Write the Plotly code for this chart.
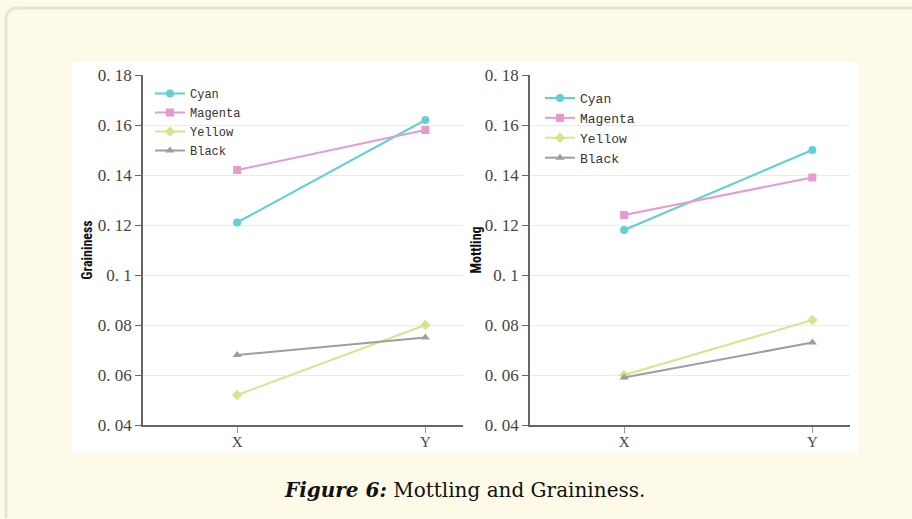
import plotly.graph_objects as go

categories = ["X", "Y"]
series_names = ["Cyan", "Magenta", "Yellow", "Black"]
graininess = {
    "Cyan": [0.121, 0.162],
    "Magenta": [0.142, 0.158],
    "Yellow": [0.052, 0.080],
    "Black": [0.068, 0.075],
}
mottling = {
    "Cyan": [0.118, 0.150],
    "Magenta": [0.124, 0.139],
    "Yellow": [0.060, 0.082],
    "Black": [0.059, 0.073],
}
tick_vals = [0.04, 0.06, 0.08, 0.10, 0.12, 0.14, 0.16, 0.18]
tick_text = ["0. 04", "0. 06", "0. 08", "0. 1", "0. 12", "0. 14", "0. 16", "0. 18"]

colors = {"Cyan": "#5fd0d5", "Magenta": "#e59bd0", "Yellow": "#d8e38c", "Black": "#9e9e9e"}
symbols = {"Cyan": "circle", "Magenta": "square", "Yellow": "diamond", "Black": "triangle-up"}

W, H = 912, 519
fig = go.Figure()

for name in series_names:
    fig.add_trace(go.Scatter(
        x=categories, y=graininess[name], name=name, mode="lines+markers",
        line=dict(color=colors[name], width=2),
        marker=dict(symbol=symbols[name], size=8, color=colors[name]),
        xaxis="x", yaxis="y", legend="legend"))
for name in series_names:
    fig.add_trace(go.Scatter(
        x=categories, y=mottling[name], name=name, mode="lines+markers",
        line=dict(color=colors[name], width=2),
        marker=dict(symbol=symbols[name], size=8, color=colors[name]),
        xaxis="x2", yaxis="y2", legend="legend2"))

def px(x):
    return x / W

def py(y):
    return 1 - y / H

tick_font = dict(family="Liberation Serif, DejaVu Serif, serif", size=17, color="#444444")
xtick_font = dict(family="Liberation Serif, DejaVu Serif, serif", size=15, color="#444444")
title_font = dict(family="Liberation Sans Narrow, Roboto Condensed, Roboto, sans-serif", size=14, color="#111111")

yaxis_common = dict(
    range=[0.04, 0.18], tickvals=tick_vals, ticktext=tick_text,
    showgrid=True, gridcolor="#ebebeb", gridwidth=1,
    showline=True, linecolor="#666666", linewidth=1.5,
    ticks="outside", ticklen=6, tickcolor="#666666",
    tickfont=tick_font, zeroline=False, fixedrange=True, automargin=False,
)
xaxis_common = dict(
    type="category", range=[-0.5, 1.2],
    showgrid=False, showline=True, linecolor="#666666", linewidth=1.5,
    ticks="outside", ticklen=6, tickcolor="#999999", ticklabelstandoff=-4,
    tickfont=xtick_font, zeroline=False, fixedrange=True, automargin=False,
)

legend_font = dict(family="Liberation Mono, DejaVu Sans Mono, monospace", size=12, color="#333333")

fig.update_layout(
    template="none",
    width=W, height=H,
    margin=dict(l=0, r=0, t=0, b=0, pad=0, autoexpand=False),
    paper_bgcolor="#fefae8",
    plot_bgcolor="rgba(0,0,0,0)",
    xaxis=dict(domain=[px(143), px(463)], anchor="y", **xaxis_common),
    yaxis=dict(domain=[py(425), py(75)], anchor="x",
               title=dict(text="<b>Graininess</b>", font=title_font, standoff=2), **yaxis_common),
    xaxis2=dict(domain=[px(530), px(850)], anchor="y2", **xaxis_common),
    yaxis2=dict(domain=[py(425), py(75)], anchor="x2",
                title=dict(text="<b>Mottling</b>", font=title_font, standoff=0), **yaxis_common),
    legend=dict(x=px(150), y=py(79), xanchor="left", yanchor="top",
                bgcolor="rgba(0,0,0,0)", font=legend_font, tracegroupgap=0,
                itemwidth=30, borderwidth=0),
    legend2=dict(x=px(540), y=py(83), xanchor="left", yanchor="top",
                 bgcolor="rgba(0,0,0,0)", font=dict(legend_font, size=13), tracegroupgap=0,
                 itemwidth=30, borderwidth=0),
    shapes=[
        dict(type="path", xref="paper", yref="paper", layer="below",
             path=f"M {px(6)} {py(518)} L {px(6)} {py(20)} Q {px(6)} {py(8)} {px(18)} {py(8)} L {px(915)} {py(8)}",
             line=dict(color="#e6e4d6", width=3), fillcolor="rgba(0,0,0,0)"),
        dict(type="rect", xref="paper", yref="paper", layer="below",
             x0=px(72), x1=px(858), y0=py(453), y1=py(62),
             fillcolor="#ffffff", line=dict(width=0)),
    ],
    annotations=[
        dict(text="<b><i>Figure 6:</i></b> Mottling and Graininess.",
             xref="paper", yref="paper", x=px(465), y=py(490),
             xanchor="center", yanchor="middle", showarrow=False,
             font=dict(family="DejaVu Serif, Liberation Serif, serif", size=20, color="#111111")),
    ],
)

fig.write_html("out.html")
